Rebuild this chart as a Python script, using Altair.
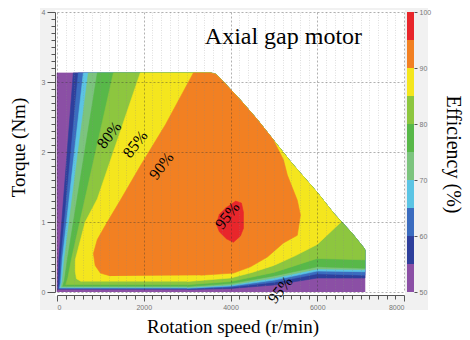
import altair as alt
import pandas as pd

# ---------------- data ----------------
LEVELS = [50, 55, 60, 65, 70, 75, 80, 85, 90, 95]
COLORS = ["#8b4fa5", "#2e3f9c", "#3b6cbf", "#5bc4e4", "#7cc47e",
          "#58b849", "#8dc63f", "#f4e61e", "#f28022", "#e8262b"]

# upper-right envelope of the operating region (speed r/min, torque Nm)
ENV_TOP_SPEED = [3540, 3660, 3840, 4230, 4620, 4990, 5400, 6000, 6370, 6800, 7060, 7100]
ENV_TOP_TORQUE = [3.13, 3.11, 3.00, 2.74, 2.46, 2.17, 1.85, 1.42, 1.13, 0.84, 0.64, 0.60]

# left (low-speed) boundaries of the >=55 ... >=80 % regions
LEFT_SPEED = {
    55: [20, 22, 42, 376],
    60: [40, 60, 88, 491],
    65: [60, 85, 122, 607],
    70: [90, 120, 168, 722],
    75: [130, 170, 238, 930],
    80: [200, 250, 330, 1300],
}
LEFT_TORQUE = {
    55: [0.035, 0.10, 0.46, 3.13],
    60: [0.045, 0.12, 0.46, 3.13],
    65: [0.055, 0.13, 0.46, 3.13],
    70: [0.065, 0.14, 0.46, 3.13],
    75: [0.08, 0.16, 0.46, 3.13],
    80: [0.105, 0.20, 0.46, 3.13],
}
# lower (low-torque) boundaries, from the right edge back to the left
LOW_SPEED = [7100, 6000, 5000, 4000, 3000]
LOW_TORQUE = {
    55: [0.20, 0.20, 0.10, 0.05, 0.035],
    60: [0.24, 0.26, 0.14, 0.07, 0.045],
    65: [0.29, 0.30, 0.17, 0.085, 0.055],
    70: [0.32, 0.33, 0.20, 0.10, 0.065],
    75: [0.34, 0.36, 0.23, 0.12, 0.08],
    80: [0.46, 0.48, 0.28, 0.15, 0.105],
}
# >=85 % region (yellow)
Y85_SPEED = [560, 450, 420, 422, 650, 930, 1920,
             3540, 3660, 3840, 4230, 4620, 4990, 5400, 6000, 6370,
             6550, 6000, 5500, 5000, 4500, 4000, 3000]
Y85_TORQUE = [0.15, 0.19, 0.30, 0.46, 1.00, 1.33, 3.13,
              3.13, 3.11, 3.00, 2.74, 2.46, 2.17, 1.85, 1.42, 1.13,
              1.00, 0.68, 0.52, 0.38, 0.28, 0.20, 0.15]
# >=90 % region (orange)
O90_SPEED = [1230, 1000, 880, 840, 930, 1160, 1460, 1920, 2500, 3144,
             3540, 3660, 3840, 4230, 4620, 4990, 5220, 5310, 5540, 5612,
             5540, 5220, 4850, 4460, 4070, 3310]
O90_TORQUE = [0.23, 0.27, 0.38, 0.55, 0.75, 1.00, 1.31, 1.80, 2.39, 3.13,
              3.13, 3.11, 3.00, 2.74, 2.46, 2.17, 1.89, 1.67, 1.31, 1.10,
              0.81, 0.70, 0.50, 0.36, 0.27, 0.24]
# >=95 % island (red)
R95_SPEED = [4113, 4252, 4298, 4298, 4229, 4067, 3906, 3744, 3675, 3744, 3906]
R95_TORQUE = [1.30, 1.27, 1.14, 0.91, 0.80, 0.71, 0.76, 0.86, 0.97, 1.11, 1.21]

# in-plot annotations
LABEL_TEXT = ["80%", "85%", "90%", "95%", "95%"]
LABEL_SPEED = [1207, 1808, 2410, 3930, 5150]
LABEL_TORQUE = [2.24, 2.11, 1.80, 1.09, 0.03]

X_TICKS = list(range(0, 8001, 200))
Y_TICKS = [round(k * 0.1, 1) for k in range(0, 41)]
CB_TICKS = [50, 60, 70, 80, 90, 100]

# ---------------- build polygon table ----------------
rows = []


def add(level, speeds, torques):
    for i, (s, t) in enumerate(zip(speeds, torques)):
        rows.append({"level": level, "i": i, "speed": s, "torque": t})


add(50, [0, 0] + ENV_TOP_SPEED + [7100], [0, 3.13] + ENV_TOP_TORQUE + [0])
for lv in [55, 60, 65, 70, 75, 80]:
    add(lv, LEFT_SPEED[lv] + ENV_TOP_SPEED + LOW_SPEED,
        LEFT_TORQUE[lv] + ENV_TOP_TORQUE + LOW_TORQUE[lv])
add(85, Y85_SPEED, Y85_TORQUE)
add(90, O90_SPEED, O90_TORQUE)
add(95, R95_SPEED, R95_TORQUE)
poly = pd.DataFrame(rows)

W, H = 347, 280
SERIF = "Liberation Serif"
SANS = "Liberation Sans"

xscale = alt.Scale(domain=[0, 8000], nice=False, zero=False)
yscale = alt.Scale(domain=[0, 4], nice=False, zero=False)

x_axis = alt.Axis(
    values=X_TICKS, labelExpr="datum.value % 2000 === 0 ? '' + datum.value : ''",
    labelOverlap=False, labelFont=SANS, labelFontSize=7, labelColor="#777",
    labelPadding=2, offset=3, domainColor="#555", domainWidth=1,
    tickColor="#555",
    tickSize={"condition": {"test": "datum.value % 2000 === 0", "value": 6}, "value": 4},
    grid=True,
    gridColor={"condition": {"test": "datum.value % 2000 === 0", "value": "#333"}, "value": "#888"},
    gridDash={"condition": {"test": "datum.value % 2000 === 0", "value": [2, 2]}, "value": [1, 1.5]},
    gridOpacity={"condition": {"test": "datum.value % 2000 === 0", "value": 0.55}, "value": 0.4},
    gridWidth=0.7, zindex=1, orient="bottom",
    title="Rotation speed (r/min)", titleFont=SERIF, titleFontSize=19,
    titleFontWeight="normal", titleColor="#000", titleAlign="center",
    titleBaseline="middle", titleX=W / 2 + 2, titleY=31,
)
y_axis = alt.Axis(
    values=Y_TICKS,
    labelExpr="abs(datum.value - round(datum.value)) < 0.001 ? '' + round(datum.value) : ''",
    labelOverlap=False, labelFont=SANS, labelFontSize=7, labelColor="#777",
    labelPadding=2, offset=2, domainColor="#555", domainWidth=1, tickColor="#555",
    tickSize={"condition": {"test": "abs(datum.value - round(datum.value)) < 0.001", "value": 8}, "value": 4},
    grid=True, gridColor="#333", gridDash=[2, 2], gridWidth=0.7,
    gridOpacity={"condition": {"test": "abs(datum.value - round(datum.value)) < 0.001", "value": 0.55}, "value": 0},
    zindex=1, orient="left",
    title="Torque (Nm)", titleFont=SERIF, titleFontSize=19, titleFontWeight="normal",
    titleColor="#000", titleAngle=270, titleAlign="center", titleBaseline="middle",
    titleX=-37, titleY=135,
)

one = pd.DataFrame({"a": [0]})
panel = alt.Chart(one).mark_rect(color="#f1f1f1").encode(
    x=alt.value(-17), x2=alt.value(371), y=alt.value(-4), y2=alt.value(298))
white = alt.Chart(one).mark_rect(color="#ffffff").encode(
    x=alt.value(-2), x2=alt.value(W + 1), y=alt.value(-2), y2=alt.value(H + 4))

layers = [panel, white]
for k, (lv, col) in enumerate(zip(LEVELS, COLORS)):
    layers.append(
        alt.Chart(poly).transform_filter(alt.datum.level == lv)
        .mark_line(fill=col, stroke=col, strokeWidth=0.6, interpolate="linear")
        .encode(
            x=alt.X("speed:Q", scale=xscale, axis=x_axis),
            y=alt.Y("torque:Q", scale=yscale, axis=y_axis if k == 0 else None),
            order="i:Q",
        )
    )

labels = pd.DataFrame({"t": LABEL_TEXT, "s": LABEL_SPEED, "q": LABEL_TORQUE})
layers.append(
    alt.Chart(labels).mark_text(angle=308, font=SERIF, fontSize=16, color="#000")
    .encode(x=alt.X("s:Q", scale=xscale, axis=x_axis),
            y=alt.Y("q:Q", scale=yscale, axis=None), text="t:N")
)
title_df = pd.DataFrame({"t": ["Axial gap motor"], "s": [5221], "q": [3.64]})
layers.append(
    alt.Chart(title_df).mark_text(font=SERIF, fontSize=24, color="#000")
    .encode(x=alt.X("s:Q", scale=xscale, axis=x_axis),
            y=alt.Y("q:Q", scale=yscale, axis=None), text="t:N")
)

cb = pd.DataFrame({"lo": LEVELS, "hi": [v + 5 for v in LEVELS], "c": COLORS})
layers.append(
    alt.Chart(cb).mark_rect().encode(
        x=alt.value(W + 3), x2=alt.value(W + 10),
        y=alt.Y("lo:Q", scale=alt.Scale(domain=[50, 100], nice=False, zero=False),
                axis=alt.Axis(orient="right", values=CB_TICKS, offset=10, domain=False,
                              tickSize=3, tickColor="#555", labelFont=SANS, labelFontSize=7,
                              labelColor="#777", labelPadding=2, grid=False, zindex=1,
                              title="Efficiency (%)", titleFont=SERIF, titleFontSize=20,
                              titleFontWeight="normal", titleColor="#000", titleAngle=90,
                              titleAlign="center", titleBaseline="middle",
                              titleX=38, titleY=142)),
        y2="hi:Q",
        color=alt.Color("c:N", scale=None, legend=None),
    )
)

chart = alt.layer(*layers).resolve_scale(y="independent").properties(
    width=W, height=H,
    autosize=alt.AutoSizeParams(type="none"),
    padding={"left": 57, "top": 12, "right": 66, "bottom": 48},
).configure_view(stroke=None)

chart.save("out.html", embed_options={"renderer": "svg", "actions": False})
